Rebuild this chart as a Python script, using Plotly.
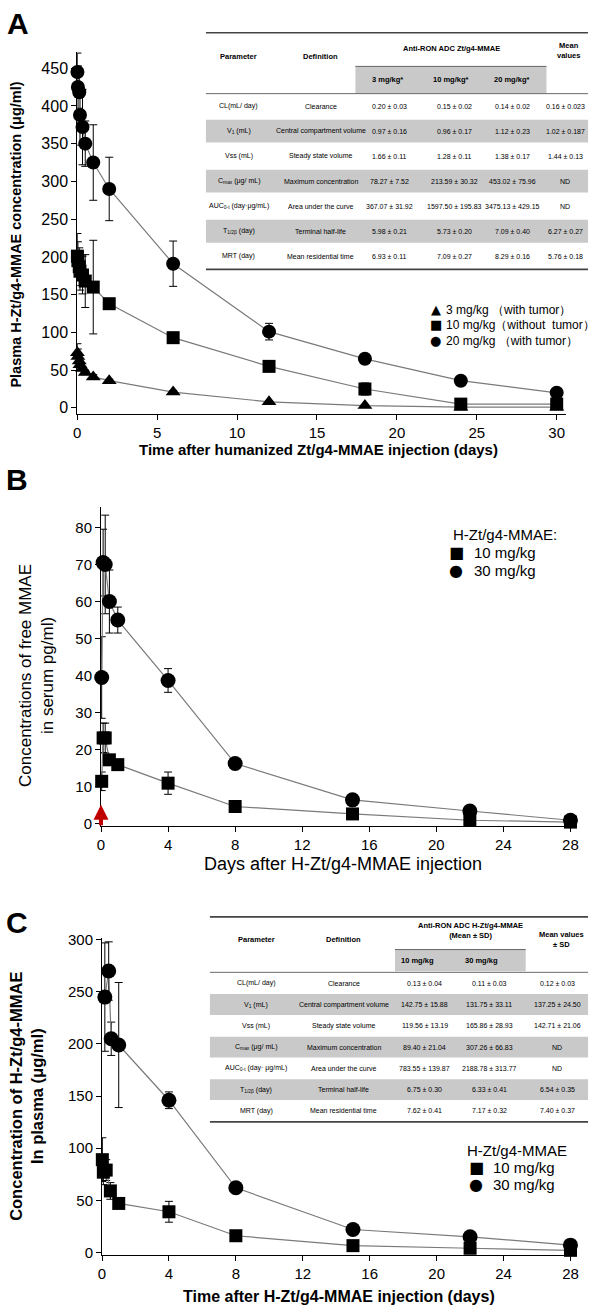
import plotly.graph_objects as go

W, H = 596, 1311
FONT = "Liberation Sans, Arial, sans-serif"
NARROW = "Liberation Sans Narrow, Arial Narrow, Liberation Sans, Arial, sans-serif"

# ---------------- Panel A data ----------------
a_days = [0.01, 0.04, 0.125, 0.17, 0.33, 0.5, 1, 2, 6, 12, 18, 24, 30]
a_3mg = [73, 68, 62, 57, 52, 47, 41, 36, 21, 8, 3, 1, 1]
a_3mg_sd = [12, 10, 8, 5, 3, 3, 3, 2, 2, 1, 1, 0.5, 0.5]
a_10mg = [201, 195, 187, 181, 176, 168, 160, 138, 93, 55, 25, 5, 5]
a_10mg_sd = [30, 25, 25, 25, 25, 35, 62, 5, 3, 5, 8, 2, 2]
a_20mg = [445, 425, 418, 388, 372, 350, 325, 290, 191, 101, 65, 36, 20]
a_20mg_sd = [25, 28, 30, 40, 50, 30, 50, 42, 30, 11, 3, 2, 2]
a_names = ["3 mg/kg （with tumor）", "10 mg/kg（without  tumor）", "20 mg/kg （with tumor）"]
a_xticks = [0, 5, 10, 15, 20, 25, 30]
a_yticks = [0, 50, 100, 150, 200, 250, 300, 350, 400, 450]

# ---------------- Panel B data ----------------
b_days = [0.04, 0.125, 0.25, 0.5, 1, 4, 8, 15, 22, 28]
b_10mg = [11.5, 23.2, 23.2, 17.3, 16.0, 11.0, 4.7, 2.7, 1.0, 0.5]
b_10mg_sd = [2.5, 4, 4, 1, 0.5, 3, 0.5, 0.3, 0.3, 0.2]
b_30mg = [39.5, 70.5, 70.0, 60.0, 55.0, 38.7, 16.3, 6.5, 3.5, 1.0]
b_30mg_sd = [11, 9, 13.3, 8.5, 3.5, 3.2, 1.0, 0.4, 0.6, 0.3]
b_names = ["10 mg/kg", "30 mg/kg"]
b_legend_title = "H-Zt/g4-MMAE:"
b_xticks = [0, 4, 8, 12, 16, 20, 24, 28]
b_yticks = [0, 10, 20, 30, 40, 50, 60, 70, 80]

# ---------------- Panel C data ----------------
c_days_10 = [0.02, 0.08, 0.25, 0.5, 1, 4, 8, 15, 22, 28]
c_10mg = [89, 77, 79, 59, 47, 39, 16, 6.5, 4, 2]
c_10mg_sd = [21, 12, 10, 8, 2, 10, 1, 1, 0.5, 0.5]
c_days_30 = [0.17, 0.4, 0.55, 1, 4, 8, 15, 22, 28]
c_30mg = [245, 270, 205, 199, 146, 62, 22, 15, 7]
c_30mg_sd = [52, 28, 16, 60, 8, 2, 2, 1.5, 1]
c_names = ["10 mg/kg", "30 mg/kg"]
c_legend_title = "H-Zt/g4-MMAE"
c_xticks = [0, 4, 8, 12, 16, 20, 24, 28]
c_yticks = [0, 50, 100, 150, 200, 250, 300]

# ---------------- Table A ----------------
ta_params = ["CL(mL/ day)", "V<sub>1</sub> (mL)", "Vss (mL)", "C<sub>max</sub> (μg/ mL)",
             "AUC<sub>0-t</sub> (day·μg/mL)", "T<sub>1/2β</sub> (day)", "MRT (day)"]
ta_defs = ["Clearance", "Central compartment volume", "Steady state volume",
           "Maximum concentration", "Area under the curve", "Terminal half-life",
           "Mean residential time"]
ta_3mg = ["0.20 ± 0.03", "0.97 ± 0.16", "1.66 ± 0.11", "78.27 ± 7.52", "367.07 ± 31.92",
          "5.98 ± 0.21", "6.93 ± 0.11"]
ta_10mg = ["0.15 ± 0.02", "0.96 ± 0.17", "1.28 ± 0.11", "213.59 ± 30.32", "1597.50 ± 195.83",
           "5.73 ± 0.20", "7.09 ± 0.27"]
ta_20mg = ["0.14 ± 0.02", "1.12 ± 0.23", "1.38 ± 0.17", "453.02 ± 75.96", "3475.13 ± 429.15",
           "7.09 ± 0.40", "8.29 ± 0.16"]
ta_mean = ["0.16 ± 0.023", "1.02 ± 0.187", "1.44 ± 0.13", "ND", "ND", "6.27 ± 0.27", "5.76 ± 0.18"]
ta_head = ["Parameter", "Definition", "Anti-RON ADC Zt/g4-MMAE", "Mean<br>values"]
ta_sub = ["3 mg/kg*", "10 mg/kg*", "20 mg/kg*"]

# ---------------- Table C ----------------
tc_params = ["CL(mL/ day)", "V<sub>1</sub> (mL)", "Vss (mL)", "C<sub>max</sub> (μg/ mL)",
             "AUC<sub>0-t</sub> (day· μg/mL)", "T<sub>1/2β</sub> (day)", "MRT (day)"]
tc_defs = ta_defs
tc_10mg = ["0.13 ± 0.04", "142.75 ± 15.88", "119.56 ± 13.19", "89.40 ± 21.04", "783.55 ± 139.87",
           "6.75 ± 0.30", "7.62 ± 0.41"]
tc_30mg = ["0.11 ± 0.03", "131.75 ± 33.11", "165.86 ± 28.93", "307.26 ± 66.83", "2188.78 ± 313.77",
           "6.33 ± 0.41", "7.17 ± 0.32"]
tc_mean = ["0.12 ± 0.03", "137.25 ± 24.50", "142.71 ± 21.06", "ND", "ND", "6.54 ± 0.35", "7.40 ± 0.37"]
tc_head = ["Parameter", "Definition", "Anti-RON ADC H-Zt/g4-MMAE<br>(Mean ± SD)", "Mean values<br>± SD"]
tc_sub = ["10 mg/kg", "30 mg/kg"]


def px(x):
    return x / W


def py(y):
    return 1 - y / H


fig = go.Figure()
LINE_GREY = "#7a7a7a"


def add_series(x, y, sd, symbol, size, name, xa, ya):
    fig.add_trace(go.Scatter(
        x=x, y=y, mode="lines+markers", xaxis=xa, yaxis=ya, name=name,
        line=dict(color=LINE_GREY, width=1.2),
        marker=dict(symbol=symbol, size=size, color="black"),
        error_y=dict(type="data", array=sd, color="black", thickness=1, width=4),
        showlegend=False, cliponaxis=False))


add_series(a_days, a_3mg, a_3mg_sd, "triangle-up", 13, a_names[0], "x", "y")
add_series(a_days, a_10mg, a_10mg_sd, "square", 13, a_names[1], "x", "y")
add_series(a_days, a_20mg, a_20mg_sd, "circle", 14, a_names[2], "x", "y")

add_series(b_days, b_10mg, b_10mg_sd, "square", 13, b_names[0], "x2", "y2")
add_series(b_days, b_30mg, b_30mg_sd, "circle", 15, b_names[1], "x2", "y2")

add_series(c_days_10, c_10mg, c_10mg_sd, "square", 13, c_names[0], "x3", "y3")
add_series(c_days_30, c_30mg, c_30mg_sd, "circle", 15, c_names[1], "x3", "y3")


def axis(domain, rng, ticks, anchor, size):
    return dict(domain=domain, range=rng, tickvals=ticks, anchor=anchor,
                showline=True, linecolor="black", linewidth=1, ticks="outside",
                ticklen=5, tickcolor="black", tickwidth=1, showgrid=False, zeroline=False,
                tickfont=dict(family=FONT, size=size, color="black"), fixedrange=True)


fig.update_layout(
    width=W, height=H, autosize=False,
    margin=dict(l=0, r=0, t=0, b=0),
    paper_bgcolor="white", plot_bgcolor="white",
    font=dict(family=FONT, color="black"),
    showlegend=False,
    xaxis=axis([px(74), px(568)], [0, 30.6], a_xticks, "y", 15),
    yaxis=axis([py(411), py(45)], [-8, 472], a_yticks, "x", 16),
    xaxis2=axis([px(98), px(579)], [0, 28.4], b_xticks, "y2", 15),
    yaxis2=axis([py(827), py(505)], [-0.5, 85.5], b_yticks, "x2", 15),
    xaxis3=axis([px(99), px(579)], [0, 28.4], c_xticks, "y3", 15),
    yaxis3=axis([py(1260), py(940)], [-2, 302], c_yticks, "x3", 15),
)

ann = []
shapes = []


def text(x, y, t, size, bold=False, family=FONT, angle=0, xanchor="center"):
    ann.append(dict(x=px(x), y=py(y), xref="paper", yref="paper", text=(f"<b>{t}</b>" if bold else t),
                    showarrow=False, textangle=angle, xanchor=xanchor, yanchor="middle",
                    borderpad=0, font=dict(family=family, size=size, color="black")))


# panel letters
text(14, 17, "A", 30, bold=True)
text(13, 477, "B", 30, bold=True)
text(13, 925, "C", 30, bold=True)

# axis titles
text(12, 230, "Plasma H-Zt/g4-MMAE concentration (μg/ml)", 14.5, bold=True, angle=-90)
text(318, 447, "Time after humanized Zt/g4-MMAE injection (days)", 15, bold=True)
text(33, 675, "Concentrations of free MMAE<br>in serum pg/ml)", 17, angle=-90)
text(342, 866, "Days after H-Zt/g4-MMAE injection", 18)
text(22, 1100, "Concentration of H-Zt/g4-MMAE<br>In plasma (μg/ml)", 16.5, bold=True, angle=-90)
text(338, 1302, "Time after H-Zt/g4-MMAE injection (days)", 16, bold=True)

# legends (glyph + label)
GLYPH = {"triangle-up": "▲", "square": "■", "circle": "●"}


def legend(items, sym_x, txt_x, ys, size, gsize):
    for (sym, name), yy in zip(items, ys):
        text(sym_x, yy, GLYPH[sym], gsize, family="DejaVu Sans, Liberation Sans")
        text(txt_x, yy, name, size, xanchor="left")


legend([("triangle-up", a_names[0]), ("square", a_names[1]), ("circle", a_names[2])],
       436, 445, [306, 321, 337], 12, 13)
text(453, 533, b_legend_title, 15, xanchor="left")
legend([("square", b_names[0]), ("circle", b_names[1])], 457, 474, [551, 569], 15, 16)
text(467, 1155, c_legend_title, 15, xanchor="left")
legend([("square", c_names[0]), ("circle", c_names[1])], 477, 493, [1172, 1189], 15, 16)

# red arrow at injection (panel B)
ann.append(dict(x=0, y=5.2, xref="x2", yref="y2", ax=0, ay=22, text="", showarrow=True,
                arrowhead=2, arrowsize=0.75, arrowwidth=4, arrowcolor="#c00000"))

GREY = "#c9c9c9"
RULE = "#444444"


def hline(x0, x1, y, w):
    shapes.append(dict(type="line", xref="paper", yref="paper", x0=px(x0), x1=px(x1),
                       y0=py(y), y1=py(y), line=dict(color=RULE, width=w)))


def band(x0, x1, y0, y1):
    shapes.append(dict(type="rect", xref="paper", yref="paper", x0=px(x0), x1=px(x1),
                       y0=py(y1), y1=py(y0), fillcolor=GREY, line=dict(width=0), layer="below"))


def table(x0, x1, top, head_pos, head_txt, band_x, band_y, sub_x, sub_txt, hdr_line,
          row_y, row_h, bottom, col_x, columns, hsize, csize):
    hline(x0, x1, top, 1.6)
    for (hx, hy), t in zip(head_pos, head_txt):
        text(hx, hy, t, hsize, bold=True, family=NARROW)
    band(band_x[0], band_x[1], band_y[0], band_y[1])
    hline(band_x[0], band_x[1], band_y[0], 0.8)
    for sx, t in zip(sub_x, sub_txt):
        text(sx, (band_y[0] + band_y[1]) / 2, t, hsize, bold=True, family=NARROW)
    hline(x0, x1, hdr_line, 0.8)
    for i, ry in enumerate(row_y):
        if i % 2 == 1:
            band(x0, x1, ry - row_h / 2, ry + row_h / 2)
        for cx, col in zip(col_x, columns):
            text(cx, ry, col[i], csize, family=NARROW)
    hline(x0, x1, bottom, 1.6)


table(204, 590, 26,
      [(237, 50), (320, 50), (452, 42), (570, 44)], ta_head,
      (355, 548), (60, 87), [387, 452, 513], ta_sub, 87.5,
      [100, 125.3, 150.6, 175.9, 201.2, 226.5, 251.8], 23, 265,
      [237, 320, 389, 455, 514, 567],
      [ta_params, ta_defs, ta_3mg, ta_10mg, ta_20mg, ta_mean], 7.5, 7)

table(208, 590, 919,
      [(255, 942), (343, 942), (471, 933), (563, 942)], tc_head,
      (395, 527), (952, 974), [418, 482], tc_sub, 975,
      [986, 1007.5, 1029, 1050.5, 1072, 1093.5, 1115], 21, 1126,
      [255, 343, 425, 490, 559],
      [tc_params, tc_defs, tc_10mg, tc_30mg, tc_mean], 7.5, 7)

fig.update_layout(annotations=ann, shapes=shapes)
fig.write_html("out.html", config={"displayModeBar": False},
               post_script="document.body.style.margin='0';document.body.style.overflow='hidden';")
